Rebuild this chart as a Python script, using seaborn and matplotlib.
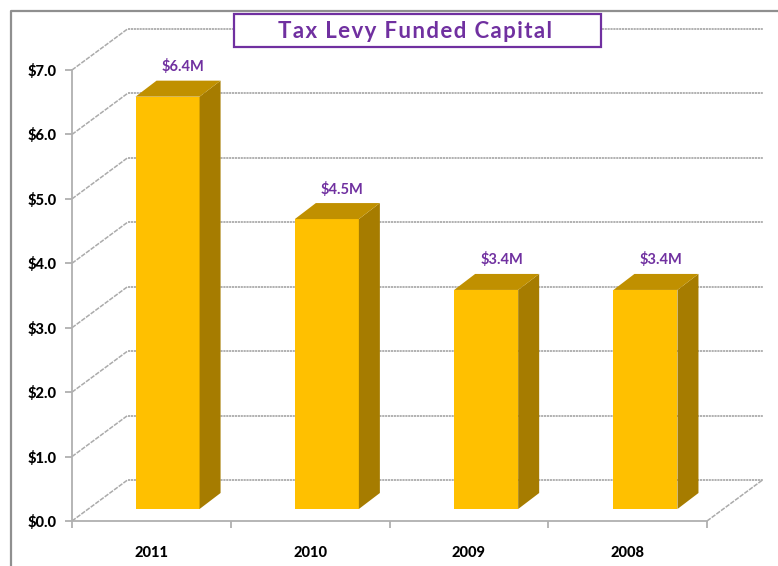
import matplotlib
matplotlib.use('Agg')
import matplotlib.pyplot as plt
import seaborn as sns
import pandas as pd
from matplotlib.patches import Polygon, Rectangle
from matplotlib.transforms import Affine2D, IdentityTransform

years = ['2011', '2010', '2009', '2008']
capital = [6.4, 4.5, 3.4, 3.4]
y_ticks = [0, 1, 2, 3, 4, 5, 6, 7]
title = 'Tax Levy Funded Capital'

front_color = '#FFC000'
top_color = '#C09000'
side_color = '#A67C00'
purple = '#7030A0'
axis_gray = '#B0B0B0'
grid_gray = '#ABABAB'

W, H = 778, 566
sns.set_style('white')
plt.rcParams['font.family'] = ['Lato', 'DejaVu Sans']

df = pd.DataFrame({'year': years, 'capital': capital})

fig = plt.figure(figsize=(W / 100, H / 100), dpi=100)


def px_axes(left, right, top, bottom):
    return fig.add_axes([left / W, 1 - bottom / H, (right - left) / W, (bottom - top) / H])


# front plane of the fake 3d box
ax = px_axes(72, 707, 70, 521)
ax.set_xlim(-0.5, 3.5)
ax.set_ylim(0, 7)
ax.patch.set_alpha(0)

# back wall + side wall gridlines
back = ax.transData + Affine2D().translate(55.5, 41)
for t in y_ticks:
    ax.plot([-0.5, 3.5], [t, t], transform=back, color=grid_gray, lw=1.3, ls=(0, (1.2, 0.4)), clip_on=False, zorder=1)
    x0, y0 = ax.transData.transform((-0.5, t))
    ax.plot([x0, x0 + 55.5], [y0, y0 + 41], transform=IdentityTransform(), color=grid_gray, lw=1.1,
            ls=(0, (3, 0.8)), clip_on=False, zorder=1)

# floor right edge
x0, y0 = ax.transData.transform((3.5, 0))
ax.plot([x0, x0 + 55.5], [y0, y0 + 41], transform=IdentityTransform(), color=grid_gray, lw=1.1,
        ls=(0, (3, 0.8)), clip_on=False, zorder=1)

ax.set_xticks(range(len(years)))
ax.set_xticklabels(years, fontsize=10.5, fontweight='black', color='black')
ax.set_xticks([-0.5, 0.5, 1.5, 2.5, 3.5], minor=True)
ax.tick_params(axis='x', which='major', length=0, pad=18)
ax.tick_params(axis='x', which='minor', length=5, width=1.3, color=axis_gray, bottom=True)
ax.set_yticks(y_ticks)
ax.set_yticklabels([f'${t:.1f}' for t in y_ticks], fontsize=10.5, fontweight='black', color='black')
ax.tick_params(axis='y', length=5, width=1.3, color=axis_gray, left=True, pad=6)
for s in ['top', 'right']:
    ax.spines[s].set_visible(False)
for s in ['left', 'bottom']:
    ax.spines[s].set_color(axis_gray)
    ax.spines[s].set_linewidth(1.3)

# bars sit a bit further back than the axis plane
ax_bar = px_axes(87.9, 725.1, 70 - 12, 521 - 12)
sns.barplot(data=df, x='year', y='capital', ax=ax_bar, color=front_color, saturation=1, width=0.402,
            linewidth=0, edgecolor='none', zorder=3)
ax_bar.set_xlim(-0.5, 3.5)
ax_bar.set_ylim(0, 7)
ax_bar.axis('off')
ax_bar.patch.set_alpha(0)

dx, dy = 21, 16
for bar, v in zip(ax_bar.patches, capital):
    xa = bar.get_x()
    xb = xa + bar.get_width()
    (x1, y1), (x2, y2) = ax_bar.transData.transform([(xa, 0), (xb, v)])
    side = Polygon([(x2, y1), (x2 + dx, y1 + dy), (x2 + dx, y2 + dy), (x2, y2)], closed=True,
                   transform=IdentityTransform(), fc=side_color, ec='none', clip_on=False, zorder=3)
    top = Polygon([(x1, y2), (x2, y2), (x2 + dx, y2 + dy), (x1 + dx, y2 + dy)], closed=True,
                  transform=IdentityTransform(), fc=top_color, ec='none', clip_on=False, zorder=3)
    ax_bar.add_patch(side)
    ax_bar.add_patch(top)
    ax_bar.annotate(f'${v}M', xy=(xa + bar.get_width() / 2, v), xytext=(15.5 * 0.72, 30 * 0.72),
                    textcoords='offset points', ha='center', va='center', fontsize=10.5,
                    fontweight='bold', color=purple, annotation_clip=False)

# outer frame, only left and top show up
fig.add_artist(plt.Line2D([11 / W, 11 / W, 1], [0, 1 - 10.5 / H, 1 - 10.5 / H], color='#8f8f8f', lw=1.6))

# title box
fig.add_artist(Rectangle((234 / W, 1 - 47 / H), 367 / W, 33 / H, transform=fig.transFigure,
                         fc='white', ec=purple, lw=1.6, zorder=5))
fig.text(415.5 / W, 1 - 32 / H, '\u200a'.join(title), ha='center', va='center', fontsize=16,
         fontweight='bold', color=purple, zorder=6)

fig.savefig('out.png', dpi=100)
